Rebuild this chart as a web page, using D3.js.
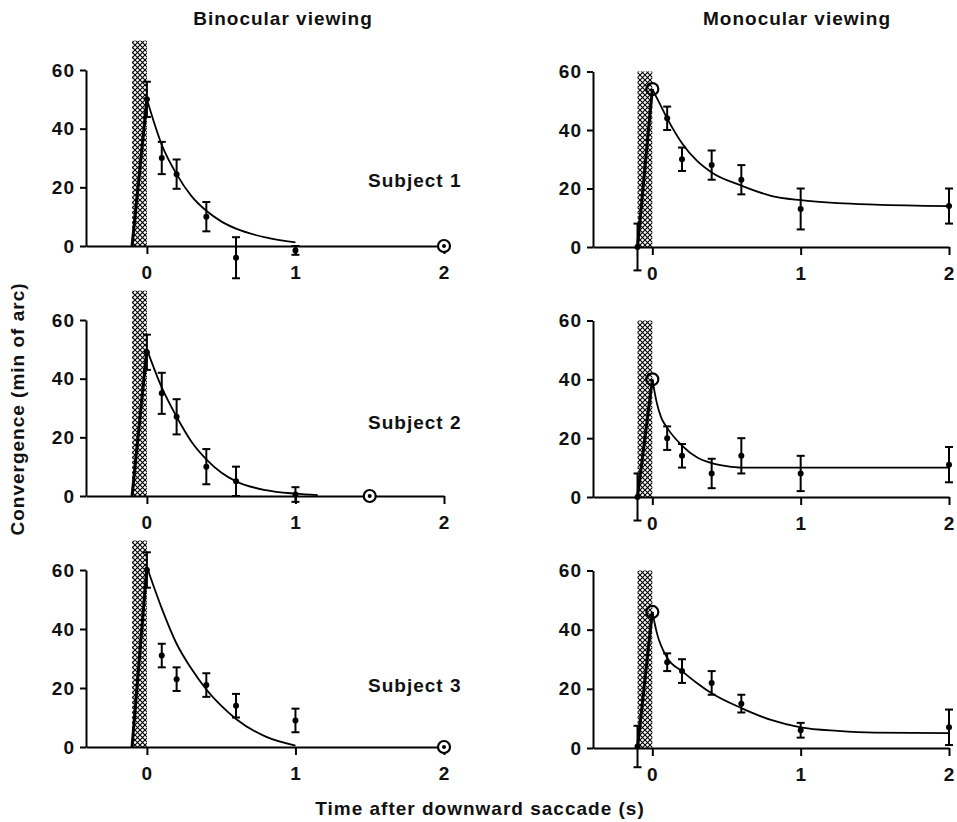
<!DOCTYPE html>
<html>
<head>
<meta charset="utf-8">
<script src="https://cdn.jsdelivr.net/npm/d3@7"></script>
<style>
  body { margin: 0; background: #fff; }
  text { font-family: "Liberation Sans", Arial, sans-serif; font-weight: bold; fill: #111; }
</style>
</head>
<body>
<script>
// ---- data ----
var xTicks = [0, 1, 2];
var yTicks = [0, 20, 40, 60];
var viewings = ["Binocular viewing", "Monocular viewing"];
var subjects = ["Subject 1", "Subject 2", "Subject 3"];
var saccade = [-0.1, 0];   // hatched saccade period (s)

// binocular, subject 1
var bin1T = [0, 0.1, 0.2, 0.4, 0.6, 1.0];
var bin1V = [50, 30, 24.5, 10, -4, -1.5];
var bin1E = [6, 5.5, 5, 5, 7, 1.5];
var bin1Open = [2, 0];
var bin1CurveT = [0, 0.1, 0.2, 0.3, 0.4, 0.5, 0.6, 0.8, 1.0];
var bin1CurveV = [50, 34.5, 24.5, 17, 12, 8.4, 5.9, 2.9, 1.2];

// binocular, subject 2
var bin2T = [0, 0.1, 0.2, 0.4, 0.6, 1.0];
var bin2V = [49, 35, 27, 10, 5, 0.5];
var bin2E = [6, 7, 6, 6, 5, 2.5];
var bin2Open = [1.5, 0];
var bin2CurveT = [0, 0.1, 0.2, 0.3, 0.4, 0.5, 0.6, 0.8, 1.0, 1.15];
var bin2CurveV = [50, 37, 27, 18.5, 12.5, 8, 5, 2, 0.8, 0.3];

// binocular, subject 3
var bin3T = [0, 0.1, 0.2, 0.4, 0.6, 1.0];
var bin3V = [60, 31, 23, 21, 14, 9];
var bin3E = [6, 4, 4, 4, 4, 4];
var bin3Open = [2, 0];
var bin3CurveT = [0, 0.1, 0.2, 0.3, 0.4, 0.5, 0.6, 0.8, 1.0];
var bin3CurveV = [61, 47, 35, 26.5, 19.5, 14, 9.5, 3.5, 0.5];

// monocular, subject 1
var mon1T = [-0.1, 0.1, 0.2, 0.4, 0.6, 1.0, 2.0];
var mon1V = [0, 44, 30, 28, 23, 13, 14];
var mon1E = [8, 4, 4, 5, 5, 7, 6];
var mon1Open = [0, 54];
var mon1CurveT = [0, 0.05, 0.1, 0.2, 0.3, 0.4, 0.6, 0.8, 1.0, 1.25, 1.5, 2.0];
var mon1CurveV = [54, 49, 44, 35.5, 29.5, 25.5, 21, 17.5, 16, 15, 14.5, 14];

// monocular, subject 2
var mon2T = [-0.1, 0.1, 0.2, 0.4, 0.6, 1.0, 2.0];
var mon2V = [0, 20, 14, 8, 14, 8, 11];
var mon2E = [8, 4, 4, 5, 6, 6, 6];
var mon2Open = [0, 40];
var mon2CurveT = [0, 0.03, 0.06, 0.1, 0.2, 0.3, 0.4, 0.5, 0.6, 1.0, 2.0];
var mon2CurveV = [40, 32, 27, 23.5, 17.5, 13.5, 11.5, 10.5, 10, 10, 10];

// monocular, subject 3
var mon3T = [-0.1, 0.1, 0.2, 0.4, 0.6, 1.0, 2.0];
var mon3V = [0.5, 29, 26, 22, 15, 6, 7];
var mon3E = [7, 3, 4, 4, 3, 2.5, 6];
var mon3Open = [0, 46];
var mon3CurveT = [0, 0.03, 0.1, 0.2, 0.3, 0.4, 0.6, 0.8, 1.0, 1.25, 1.5, 2.0];
var mon3CurveV = [46, 39, 30.5, 26, 22, 18.5, 13.5, 9.5, 7, 5.8, 5.2, 5];

var panels = [
  {col: 0, row: 0, t: bin1T, v: bin1V, e: bin1E, open: bin1Open, ct: bin1CurveT, cv: bin1CurveV, hatchTop: 70},
  {col: 0, row: 1, t: bin2T, v: bin2V, e: bin2E, open: bin2Open, ct: bin2CurveT, cv: bin2CurveV, hatchTop: 70},
  {col: 0, row: 2, t: bin3T, v: bin3V, e: bin3E, open: bin3Open, ct: bin3CurveT, cv: bin3CurveV, hatchTop: 70},
  {col: 1, row: 0, t: mon1T, v: mon1V, e: mon1E, open: mon1Open, ct: mon1CurveT, cv: mon1CurveV, hatchTop: 60},
  {col: 1, row: 1, t: mon2T, v: mon2V, e: mon2E, open: mon2Open, ct: mon2CurveT, cv: mon2CurveV, hatchTop: 60},
  {col: 1, row: 2, t: mon3T, v: mon3V, e: mon3E, open: mon3Open, ct: mon3CurveT, cv: mon3CurveV, hatchTop: 60}
];

// ---- layout ----
var width = 957, height = 822;
var cols = [
  {domain: [-0.41, 2], range: [86, 444]},
  {domain: [-0.4, 2], range: [593, 949]}
];
var rows = [
  [[246, 70], [496, 320], [747, 570]],
  [[247, 71.5], [497, 320.5], [748, 570.5]]
];

var svg = d3.select("body").append("svg")
    .attr("width", width)
    .attr("height", height);

svg.append("rect").attr("width", width).attr("height", height).attr("fill", "#fff");

// cross-hatch for the saccade
var pat = svg.append("defs").append("pattern")
    .attr("id", "hatch")
    .attr("patternUnits", "userSpaceOnUse")
    .attr("width", 5)
    .attr("height", 5);
pat.append("rect").attr("width", 5).attr("height", 5).attr("fill", "#fff");
pat.append("path").attr("d", "M0,0L5,5M5,0L0,5").attr("stroke", "#000").attr("stroke-width", 1.1);

panels.forEach(function(p) {
    var x = d3.scaleLinear().domain(cols[p.col].domain).range(cols[p.col].range);
    var y = d3.scaleLinear().domain([0, 60]).range(rows[p.col][p.row]);
    var g = svg.append("g");

    // saccade bar
    g.append("rect")
        .attr("x", x(saccade[0]))
        .attr("y", y(p.hatchTop))
        .attr("width", x(saccade[1]) - x(saccade[0]))
        .attr("height", y(0) - y(p.hatchTop))
        .attr("fill", "url(#hatch)");

    // axes
    var yAxis = g.append("g")
        .attr("transform", "translate(" + cols[p.col].range[0] + ",0)")
        .call(d3.axisLeft(y).tickValues(yTicks).tickSize(6).tickSizeOuter(0).tickPadding(5));
    var xAxis = g.append("g")
        .attr("transform", "translate(0," + y(0) + ")")
        .call(d3.axisBottom(x).tickValues(xTicks).tickSize(8).tickSizeOuter(0).tickPadding(12).tickFormat(d3.format("d")));
    [xAxis, yAxis].forEach(function(a) {
        a.select(".domain").attr("stroke", "#000").attr("stroke-width", 2);
        a.selectAll(".tick line").attr("stroke", "#000").attr("stroke-width", 2);
        a.selectAll(".tick text")
            .style("font-size", "19px")
            .style("letter-spacing", "1px")
            .attr("fill", "#111");
    });

    // rise during the saccade
    var peak = p.col === 0 ? p.cv[0] : p.open[1];
    g.append("line")
        .attr("x1", x(saccade[0])).attr("y1", y(0))
        .attr("x2", x(saccade[1])).attr("y2", y(peak))
        .attr("stroke", "#000")
        .attr("stroke-width", 3);

    // fitted decay
    var line = d3.line()
        .x(function(d) { return x(d[0]); })
        .y(function(d) { return y(d[1]); })
        .curve(d3.curveMonotoneX);
    g.append("path")
        .datum(d3.zip(p.ct, p.cv))
        .attr("d", line)
        .attr("fill", "none")
        .attr("stroke", "#000")
        .attr("stroke-width", 1.8);

    // error bars and means
    var pts = d3.zip(p.t, p.v, p.e);
    var eb = g.selectAll(".eb").data(pts).enter().append("g");
    eb.append("line")
        .attr("x1", function(d) { return x(d[0]); })
        .attr("x2", function(d) { return x(d[0]); })
        .attr("y1", function(d) { return y(d[1] - d[2]); })
        .attr("y2", function(d) { return y(d[1] + d[2]); })
        .attr("stroke", "#000").attr("stroke-width", 2);
    [-1, 1].forEach(function(s) {
        eb.append("line")
            .attr("x1", function(d) { return x(d[0]) - 4; })
            .attr("x2", function(d) { return x(d[0]) + 4; })
            .attr("y1", function(d) { return y(d[1] + s * d[2]); })
            .attr("y2", function(d) { return y(d[1] + s * d[2]); })
            .attr("stroke", "#000").attr("stroke-width", 2);
    });
    eb.append("circle")
        .attr("cx", function(d) { return x(d[0]); })
        .attr("cy", function(d) { return y(d[1]); })
        .attr("r", 3)
        .attr("fill", "#000");

    // open circle
    g.append("circle")
        .attr("cx", x(p.open[0]))
        .attr("cy", y(p.open[1]))
        .attr("r", 6)
        .attr("fill", p.col === 0 ? "#fff" : "none")
        .attr("stroke", "#000")
        .attr("stroke-width", 2.2);
    if (p.col === 0) {
        g.append("circle")
            .attr("cx", x(p.open[0]))
            .attr("cy", y(p.open[1]))
            .attr("r", 2)
            .attr("fill", "#000");
    }
});

// column titles
svg.selectAll(".title")
    .data(viewings)
    .enter().append("text")
    .attr("x", function(d, i) { return i === 0 ? 283 : 797; })
    .attr("y", 25)
    .attr("text-anchor", "middle")
    .style("font-size", "19px")
    .style("letter-spacing", "1px")
    .text(function(d) { return d; });

// subject labels
svg.selectAll(".subject")
    .data(subjects)
    .enter().append("text")
    .attr("x", 368)
    .attr("y", function(d, i) { return [187, 429, 692][i]; })
    .style("font-size", "19px")
    .style("letter-spacing", "1px")
    .text(function(d) { return d; });

// axis titles
svg.append("text")
    .attr("transform", "translate(24,409) rotate(-90)")
    .attr("text-anchor", "middle")
    .style("font-size", "19px")
    .style("letter-spacing", "1px")
    .text("Convergence (min of arc)");

svg.append("text")
    .attr("x", 480)
    .attr("y", 815)
    .attr("text-anchor", "middle")
    .style("font-size", "19px")
    .style("letter-spacing", "1px")
    .text("Time after downward saccade (s)");
</script>
</body>
</html>
